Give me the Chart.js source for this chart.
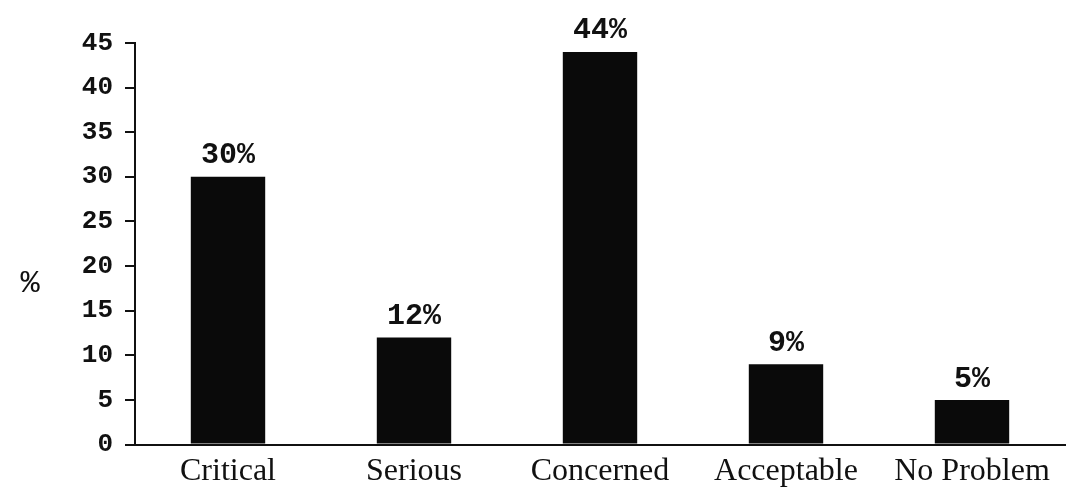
<!DOCTYPE html>
<html>
<head>
<meta charset="utf-8">
<script src="https://cdn.jsdelivr.net/npm/chart.js@4"></script>
<style>
  html, body { margin: 0; padding: 0; background: #ffffff; }
  #chartWrap { width: 1086px; height: 499px; position: relative; }
</style>
</head>
<body>
<div id="chartWrap"><canvas id="concernChart"></canvas></div>
<script>
/* chart data */
const categories = ["Critical", "Serious", "Concerned", "Acceptable", "No Problem"];
const percentValues = [30, 12, 44, 9, 5];
const valueLabels = ["30%", "12%", "44%", "9%", "5%"];

const concernChartCanvas = document.querySelector("#concernChart");

/* labels above bars + the "%" title */
const barLabelPlugin = {
  id: "barLabels",
  afterDatasetsDraw(chart) {
    const ctx = chart.ctx;
    const meta = chart.getDatasetMeta(0);

    ctx.save();
    ctx.fillStyle = "#111111";
    ctx.font = "bold 30px 'Liberation Mono'";
    ctx.textAlign = "center";
    ctx.textBaseline = "bottom";

    meta.data.forEach((bar, i) => {
      ctx.fillText(valueLabels[i], bar.x, bar.y - 6);
    });

    ctx.font = "32px 'Liberation Mono'";
    ctx.textBaseline = "middle";
    ctx.fillText("%", 30, chart.scales.y.getPixelForValue(18));
    ctx.restore();
  }
};

const concernChart =
new Chart(concernChartCanvas, {
  type: "bar",
  data: {
    labels: categories,
    datasets: [
      {
        data: percentValues,
        backgroundColor: "#0a0a0a",
        borderWidth: 0,
        barPercentage: 0.4,
        categoryPercentage: 1
      }
    ]
  },
  options: {
    responsive: true,
    maintainAspectRatio: false,
    animation: false,
    layout: {
      padding: { top: 43, right: 21, left: 0, bottom: 0 }
    },
    plugins: {
      legend: { display: false },
      tooltip: { enabled: false }
    },
    scales: {
      x: {
        grid: { display: false, drawTicks: false },
        border: { color: "#111111", width: 2 },
        ticks: {
          color: "#111111",
          padding: 8,
          font: { family: "'Liberation Serif'", size: 32 }
        }
      },
      y: {
        min: 0,
        max: 45,
        afterFit(scale) {
          scale.width = 135;
        },
        grid: {
          display: true,
          drawOnChartArea: false,
          drawTicks: true,
          tickLength: 10,
          color: "#111111",
          lineWidth: 2
        },
        border: { color: "#111111", width: 2 },
        ticks: {
          stepSize: 5,
          color: "#111111",
          padding: 12,
          font: { family: "'Liberation Mono'", size: 26, weight: "bold" }
        }
      }
    }
  },
  plugins: [barLabelPlugin]
});
</script>
</body>
</html>
